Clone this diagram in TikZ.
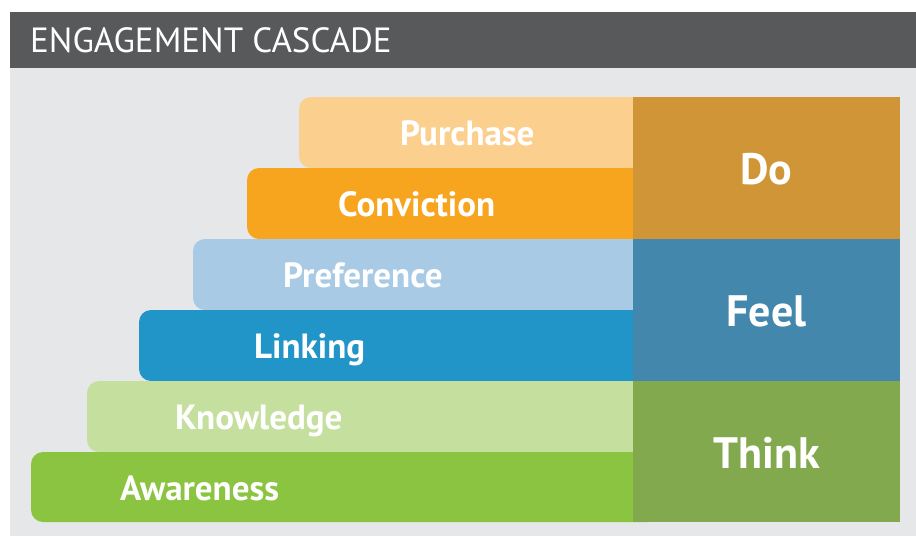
\documentclass[tikz,border=0pt]{standalone}
\usepackage{fontspec}
\setmainfont{PT Sans}
\begin{document}
\begin{tikzpicture}[x=1pt,y=-1pt,
  bar/.style={rounded corners=12pt},
  barlabel/.style={anchor=base west,inner sep=0pt,text=white,font=\bfseries\fontsize{35}{35}\selectfont},
  stage/.style={anchor=base,inner sep=0pt,text=white,font=\bfseries\fontsize{44}{44}\selectfont},
  stagebox/.style={draw=none,rectangle,inner sep=0pt,minimum width=267pt,minimum height=142pt}]
\definecolor{headgray}{HTML}{58595B}
\definecolor{panelgray}{HTML}{E6E7E8}
\definecolor{cPurchase}{HTML}{FBCF8E}
\definecolor{cConviction}{HTML}{F7A51E}
\definecolor{cDo}{HTML}{CF9536}
\definecolor{cPreference}{HTML}{A8CAE5}
\definecolor{cLinking}{HTML}{2295C8}
\definecolor{cFeel}{HTML}{4487AD}
\definecolor{cKnowledge}{HTML}{C5E09E}
\definecolor{cAwareness}{HTML}{8BC441}
\definecolor{cThink}{HTML}{83A94F}

\useasboundingbox (0,0) rectangle (916,536);
\fill[white] (0,0) rectangle (916,536);

% header bar and panel
\fill[headgray] (10,12) rectangle (916,68);
\fill[panelgray] (10,68) rectangle (916,536);
\node[anchor=base west,inner sep=0pt,text=white,font=\fontsize{35}{35}\selectfont] (title) at (30,52) {ENGAGEMENT CASCADE};

% stepped bars, tucked under the stage column on the right
\fill[cPurchase,bar]   (299,97)  rectangle (660,168);
\fill[cConviction,bar] (247,168) rectangle (660,239);
\fill[cPreference,bar] (193,239) rectangle (660,310);
\fill[cLinking,bar]    (139,310) rectangle (660,381);
\fill[cKnowledge,bar]  (87,381)  rectangle (660,452);
\fill[cAwareness,bar]  (31,452)  rectangle (660,522);

\node[barlabel] (purchase)   at (400,145) {Purchase};
\node[barlabel] (conviction) at (338,216) {Conviction};
\node[barlabel] (preference) at (283,287) {Preference};
\node[barlabel] (linking)    at (254,358) {Linking};
\node[barlabel] (knowledge)  at (175,429) {Knowledge};
\node[barlabel] (awareness)  at (120,500) {Awareness};

% stage column
\node[stagebox,fill=cDo,anchor=north west]    (doBox)    at (633,97)  {};
\node[stagebox,fill=cFeel,anchor=north west]  (feelBox)  at (633,239) {};
\node[stagebox,fill=cThink,anchor=north west,minimum height=141pt] (thinkBox) at (633,381) {};

\node[stage] (do)    at (766.5,184) {Do};
\node[stage] (feel)  at (766.5,326) {Feel};
\node[stage] (think) at (766.5,468) {Think};
\end{tikzpicture}
\end{document}
